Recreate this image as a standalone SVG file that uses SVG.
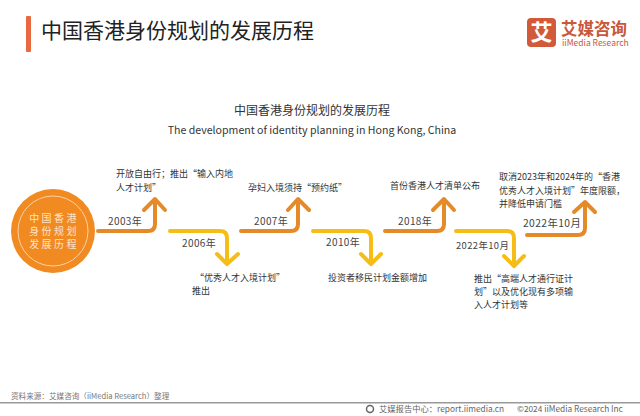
<svg xmlns="http://www.w3.org/2000/svg" width="640" height="416" viewBox="0 0 640 416">
<style>
text{font-family:"Noto Sans CJK SC","Noto Sans",sans-serif;fill:#333}
.l{font-size:9px}
.y{font-size:10px;letter-spacing:.4px;fill:#444}
.c{fill:none;stroke-width:4px;stroke-linecap:round;stroke-linejoin:round}
.o{stroke:#e58a28}.g{stroke:#f6bd16}
.n{font-size:10px;fill:#fde3c8;text-anchor:middle;letter-spacing:2.4px}
.f{font-size:7.600px;fill:#777}
.b{font-size:8.300px;fill:#666}
</style>
<rect width="640" height="416" fill="#fff"/>
<rect x="26" y="16" width="5" height="36" rx="1" fill="#e8693f"/>
<text x="41" y="38" font-size="21" style="fill:#222">中国香港身份规划的发展历程</text>
<g id="logo">
<rect x="527" y="18" width="29" height="29" rx="4" fill="#d2593a"/>
<text x="541.500" y="40" font-size="22" text-anchor="middle" style="fill:#fff;font-weight:700">艾</text>
<text x="561" y="35" font-size="16.500" style="fill:#c9573a;font-weight:700">艾媒咨询</text>
<text x="562" y="46" font-size="8.500" style="fill:#c9573a">iiMedia Research</text>
</g>
<text x="312" y="115" font-size="12" text-anchor="middle">中国香港身份规划的发展历程</text>
<text x="312" y="134" font-size="10.600" text-anchor="middle">The development of identity planning in Hong Kong, China</text>
<g id="connectors">
<path class="c o" d="M98 231H148Q155 231 155 224V200M144 210L155 199L165 210"/>
<path class="c g" d="M170 231H220Q227 231 227 238V263M217 254L227 264L238 254"/>
<path class="c o" d="M241 231H291Q298 231 298 224V200M288 210L298 199L309 210"/>
<path class="c g" d="M313 231H364Q371 231 371 238V263M361 254L371 264L381 254"/>
<path class="c o" d="M385 231H437Q444 231 444 224V200M433 210L444 199L454 210"/>
<path class="c g" d="M456 231H507Q514 231 514 238V265M504 256L514 266L524 256"/>
<path class="c o" d="M527 235H578Q585 235 585 228V204M574 212L585 202L595 212"/>
</g>
<g id="node-center">
<circle cx="53" cy="231" r="42" fill="#f18a21"/>
<circle cx="53" cy="231" r="35" fill="none" stroke="#fbd2a6" stroke-width="1"/>
<text class="n" x="54" y="222">中国香港</text>
<text class="n" x="54" y="235">身份规划</text>
<text class="n" x="54" y="248">发展历程</text>
</g>
<g id="labels">
<text class="y" x="108" y="225">2003年</text>
<text class="y" x="182" y="247">2006年</text>
<text class="y" x="254" y="225">2007年</text>
<text class="y" x="326" y="246">2010年</text>
<text class="y" x="398" y="225">2018年</text>
<text class="y" x="456" y="249" style="font-size:9.400px">2022年10月</text>
<text class="y" x="523" y="227" style="font-size:10.300px">2022年10月</text>
</g>
<g id="node-2003"><text class="l" x="116" y="177">开放自由行；推出“输入内地</text><text class="l" x="116" y="191">人才计划”</text></g>
<g id="node-2006"><text class="l" x="195" y="281">“优秀人才入境计划”</text><text class="l" x="192" y="294">推出</text></g>
<g id="node-2007"><text class="l" x="248" y="191">孕妇入境须持“预约纸”</text></g>
<g id="node-2010"><text class="l" x="328" y="281">投资者移民计划金额增加</text></g>
<g id="node-2018"><text class="l" x="390" y="189">首份香港人才清单公布</text></g>
<g id="node-2022a"><text class="l" x="474" y="282">推出“高端人才通行证计</text><text class="l" x="474" y="295">划”以及优化现有多项输</text><text class="l" x="474" y="308">入人才计划等</text></g>
<g id="node-2022b"><text class="l" x="499" y="180">取消2023年和2024年的“香港</text><text class="l" x="499" y="194">优秀人才入境计划”年度限额，</text><text class="l" x="499" y="207">并降低申请门槛</text></g>
<text class="f" x="11" y="399">资料来源：艾媒咨询（iiMedia Research）整理</text>
<rect x="0" y="402" width="640" height="1.500" fill="#999"/>
<g id="footer">
<circle cx="370" cy="409" r="3.500" fill="none" stroke="#666" stroke-width="1.500"/>
<text class="b" x="379" y="412">艾媒报告中心：report.iimedia.cn</text>
<text class="b" x="517" y="412">©2024  iiMedia Research  Inc</text>
</g>
</svg>
